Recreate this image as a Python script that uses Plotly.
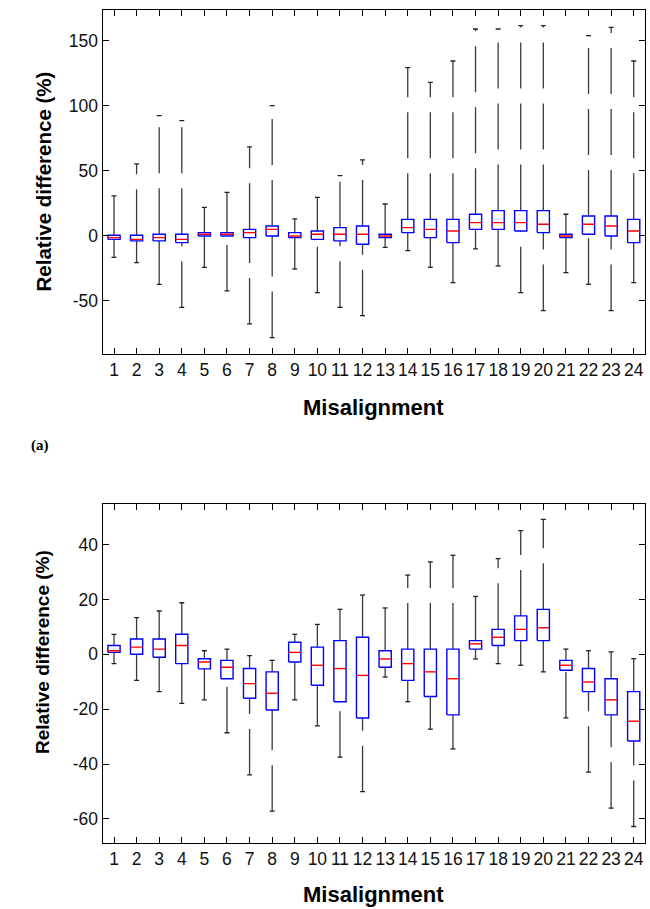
import plotly.graph_objects as go

# ---------------- data ----------------
categories = list(range(1, 25))
tick_labels = [str(c) for c in categories]

# (a) top panel
a_low = [-16.4, -20.5, -37.2, -54.9, -24.1, -42.3, -67.7, -78.2, -25.4, -43.6, -54.9, -61.3,
         -8.7, -11.3, -24.1, -35.9, -10.0, -23.1, -43.6, -57.4, -28.2, -37.2, -57.4, -35.9]
a_q1 = [-2.6, -3.8, -3.8, -5.1, 0.0, 0.0, -1.3, 0.0, -1.3, -2.6, -3.8, -6.4,
        -1.3, 2.6, -1.3, -5.1, 5.1, 5.1, 3.8, 2.6, -1.3, 1.3, 0.0, -5.1]
a_med = [-1.3, -2.6, -1.3, -2.6, 1.3, 1.3, 2.6, 5.1, 0.0, 1.3, 1.3, 1.3,
         0.0, 6.4, 5.1, 3.8, 10.3, 10.3, 10.3, 9.0, 0.0, 9.0, 7.7, 3.8]
a_q3 = [0.5, 0.5, 1.3, 1.3, 2.6, 2.6, 5.1, 7.7, 2.6, 3.8, 6.4, 7.7,
        1.3, 12.8, 12.8, 12.8, 16.7, 19.5, 19.5, 19.5, 1.3, 15.4, 15.4, 12.8]
a_high = [30.8, 55.4, 92.6, 88.7, 22.0, 33.6, 68.5, 100.3, 13.1, 29.7, 46.4, 58.5,
          24.6, 129.5, 118.2, 134.6, 159.2, 159.2, 161.8, 161.8, 16.7, 154.1, 160.5, 134.6]

# (b) bottom panel
b_low = [-3.4, -9.5, -13.6, -17.9, -16.6, -28.6, -44.0, -57.2, -16.6, -26.1, -37.5, -50.1,
         -8.3, -17.3, -27.3, -34.5, -1.7, -3.4, -4.0, -6.4, -23.2, -43.0, -56.1, -62.8]
b_q1 = [0.7, 0.0, -1.1, -3.4, -5.3, -8.9, -16.0, -20.3, -2.8, -11.3, -17.3, -23.2,
        -4.7, -9.5, -15.4, -22.1, 1.9, 3.2, 5.0, 5.0, -5.8, -13.6, -22.1, -31.6]
b_med = [1.3, 2.6, 1.9, 3.2, -2.8, -4.7, -10.7, -14.2, 0.7, -4.0, -5.2, -7.7,
         -1.7, -3.4, -6.4, -8.9, 3.8, 6.2, 9.1, 9.7, -4.0, -10.1, -16.6, -24.4]
b_q3 = [3.2, 5.6, 5.6, 7.3, -1.6, -2.2, -5.2, -6.4, 4.4, 2.6, 5.0, 6.2,
        1.3, 1.9, 1.9, 1.9, 5.0, 9.1, 14.0, 16.4, -2.2, -5.2, -8.9, -13.6]
b_high = [7.3, 13.4, 15.8, 18.8, 1.3, 1.9, -0.5, -2.2, 7.3, 10.9, 16.4, 21.6,
          16.9, 28.9, 33.7, 36.1, 21.1, 34.9, 45.1, 49.2, 1.9, 1.3, 0.9, -1.6]

a_yticks = [-50, 0, 50, 100, 150]
b_yticks = [-60, -40, -20, 0, 20, 40]

# ---------------- styling ----------------
BOX_HW = 0.27
CAP_HW = 0.11
BLUE = "#0000FF"
RED = "#FF0000"
WHISK = "#3a3a3a"
TICK_FONT = dict(family="Liberation Sans Narrow, Arial Narrow, Liberation Sans, Arial", size=17.5, color="#111")
TITLE_FONT_FAMILY = "Liberation Sans, Arial"

fig = go.Figure()


def add_panel(xa, ya, low, q1, med, q3, high):
    # whiskers (dashed), each its own segment so the dash pattern starts at the lower end
    for x, lo, a, b, hi in zip(categories, low, q1, q3, high):
        fig.add_trace(go.Scatter(x=[x, x], y=[lo, a], mode="lines", xaxis=xa, yaxis=ya,
                                 line=dict(color=WHISK, width=1.3, dash="46px,15px"),
                                 hoverinfo="skip", showlegend=False))
        fig.add_trace(go.Scatter(x=[x, x], y=[b, hi], mode="lines", xaxis=xa, yaxis=ya,
                                 line=dict(color=WHISK, width=1.3, dash="46px,15px"),
                                 hoverinfo="skip", showlegend=False))
    # caps
    cx, cy = [], []
    for x, lo, hi in zip(categories, low, high):
        cx += [x - CAP_HW, x + CAP_HW, None, x - CAP_HW, x + CAP_HW, None]
        cy += [lo, lo, None, hi, hi, None]
    fig.add_trace(go.Scatter(x=cx, y=cy, mode="lines", xaxis=xa, yaxis=ya,
                             line=dict(color="#222", width=1.3), hoverinfo="skip", showlegend=False))
    # boxes
    bx, by = [], []
    for x, a, b in zip(categories, q1, q3):
        bx += [x - BOX_HW, x + BOX_HW, x + BOX_HW, x - BOX_HW, x - BOX_HW, None]
        by += [a, a, b, b, a, None]
    fig.add_trace(go.Scatter(x=bx, y=by, mode="lines", xaxis=xa, yaxis=ya,
                             line=dict(color=BLUE, width=1.4), hoverinfo="skip", showlegend=False))
    # medians
    mx, my = [], []
    for x, m in zip(categories, med):
        mx += [x - BOX_HW, x + BOX_HW, None]
        my += [m, m, None]
    fig.add_trace(go.Scatter(x=mx, y=my, mode="lines", xaxis=xa, yaxis=ya,
                             line=dict(color=RED, width=1.4), hoverinfo="skip", showlegend=False))


add_panel("x", "y", a_low, a_q1, a_med, a_q3, a_high)
add_panel("x2", "y2", b_low, b_q1, b_med, b_q3, b_high)

W, H = 650, 909
xdom = [102.7 / W, 645 / W]
axis_common = dict(showline=True, linecolor="black", linewidth=1.3, mirror="ticks",
                   ticks="inside", ticklen=6, tickcolor="black", tickwidth=1,
                   showgrid=False, zeroline=False, tickfont=TICK_FONT)

fig.update_layout(
    width=W, height=H, margin=dict(l=0, r=0, t=0, b=0),
    paper_bgcolor="white", plot_bgcolor="white", showlegend=False,
    xaxis=dict(domain=xdom, anchor="y", range=[0.5, 24.5], tickmode="array",
               tickvals=categories, ticktext=tick_labels, **axis_common),
    yaxis=dict(domain=[1 - 354 / H, 1 - 10.3 / H], anchor="x", range=[-90.8, 173.6],
               tickmode="array", tickvals=a_yticks, ticktext=[str(v) for v in a_yticks], **axis_common),
    xaxis2=dict(domain=xdom, anchor="y2", range=[0.5, 24.5], tickmode="array",
                tickvals=categories, ticktext=tick_labels, **axis_common),
    yaxis2=dict(domain=[1 - 842.7 / H, 1 - 504.3 / H], anchor="x2", range=[-68.7, 54.7],
                tickmode="array", tickvals=b_yticks, ticktext=[str(v) for v in b_yticks], **axis_common),
)

annots = [
    dict(text="<b>Relative difference (%)</b>", x=42.5 / W, y=1 - 182 / H, textangle=-90,
         font=dict(family=TITLE_FONT_FAMILY, size=20.5, color="black")),
    dict(text="<b>Relative difference (%)</b>", x=42.5 / W, y=1 - 652.5 / H, textangle=-90,
         font=dict(family=TITLE_FONT_FAMILY, size=19, color="black")),
    dict(text="<b>Misalignment</b>", x=373 / W, y=1 - 407 / H,
         font=dict(family=TITLE_FONT_FAMILY, size=22, color="black")),
    dict(text="<b>Misalignment</b>", x=373 / W, y=1 - 894 / H,
         font=dict(family=TITLE_FONT_FAMILY, size=22, color="black")),
    dict(text="<b>(a)</b>", x=40 / W, y=1 - 445 / H,
         font=dict(family="Liberation Serif, DejaVu Serif, serif", size=15, color="black")),
]
for a in annots:
    fig.add_annotation(xref="paper", yref="paper", xanchor="center", yanchor="middle",
                       showarrow=False, **a)

fig.write_html(
    "out.html",
    config={"displayModeBar": False},
    post_script="document.documentElement.style.margin='0';document.body.style.margin='0';"
                "document.body.style.padding='0';document.body.style.overflow='hidden';"
                "document.documentElement.style.overflow='hidden';",
)
